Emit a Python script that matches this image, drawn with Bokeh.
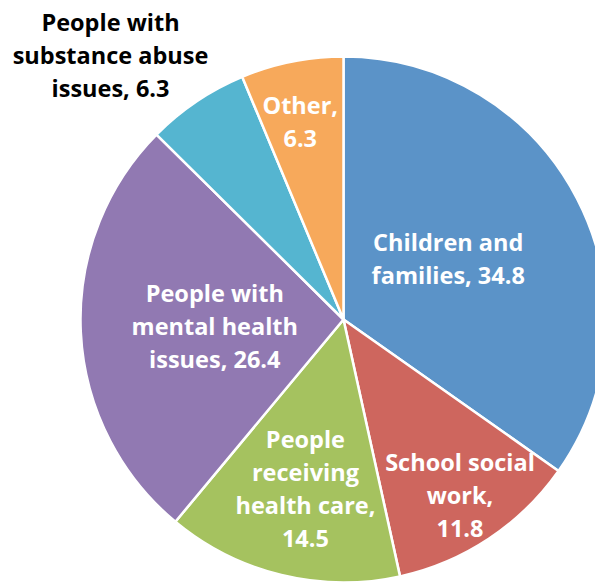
import math
from bokeh.plotting import figure
from bokeh.models import Range1d, ColumnDataSource
from bokeh.core.properties import value
from bokeh.embed import file_html
from bokeh.resources import INLINE

# ---- data ----
categories = ["Children and families", "School social work", "People receiving health care",
              "People with mental health issues", "People with substance abuse issues", "Other"]
values = [34.8, 11.8, 14.5, 26.4, 6.3, 6.3]
label_texts = ["Children and\nfamilies, 34.8", "School social\nwork,\n11.8",
               "People\nreceiving\nhealth care,\n14.5", "People with\nmental health\nissues, 26.4",
               "People with\nsubstance abuse\nissues, 6.3", "Other,\n6.3"]
colors = ["#5B93C8", "#CE665E", "#A5C25F", "#9179B2", "#55B5D0", "#F7A95B"]
label_colors = ["white", "white", "white", "white", "black", "white"]

# ---- layout (not data) ----
W, H = 595, 582
cx, cy, R = 343, 582 - 319, 263
label_r = [0.46, 0.80, 0.66, 0.49, 1.34, 0.77]
label_angle_shift = [-2.6, 0.0, -1.0, 0.0, -7.4, -1.0]  # degrees

total = sum(values)
starts, ends, lx, ly = [], [], [], []
cum = 0.0
for i, v in enumerate(values):
    a0 = math.pi / 2 - 2 * math.pi * cum / total
    a1 = math.pi / 2 - 2 * math.pi * (cum + v) / total
    starts.append(a0)
    ends.append(a1)
    mid_deg = 360 * (cum + v / 2) / total + label_angle_shift[i]
    m = math.radians(mid_deg)
    lx.append(cx + label_r[i] * R * math.sin(m))
    ly.append(cy + label_r[i] * R * math.cos(m))
    cum += v

src = ColumnDataSource(dict(start=starts, end=ends, color=colors, cat=categories,
                            x=[cx] * len(values), y=[cy] * len(values)))
lsrc = ColumnDataSource(dict(x=lx, y=ly, text=label_texts, tc=label_colors))

p = figure(width=W, height=H, output_backend="svg", toolbar_location=None,
           x_range=Range1d(0, W), y_range=Range1d(0, H), min_border=0)
p.axis.visible = False
p.grid.visible = False
p.outline_line_color = None
p.background_fill_color = "white"
p.border_fill_color = "white"

p.wedge(x="x", y="y", radius=R, start_angle="start", end_angle="end", direction="clock",
        fill_color="color", line_color="white", line_width=2.5, source=src)

p.text(x="x", y="y", text="text", text_color="tc", source=lsrc,
       text_font=value("Open Sans"), text_font_style="bold", text_font_size="23.5px",
       text_align="center", text_baseline="middle", text_line_height=1.03)

open("out.html", "w").write(file_html(p, INLINE))
